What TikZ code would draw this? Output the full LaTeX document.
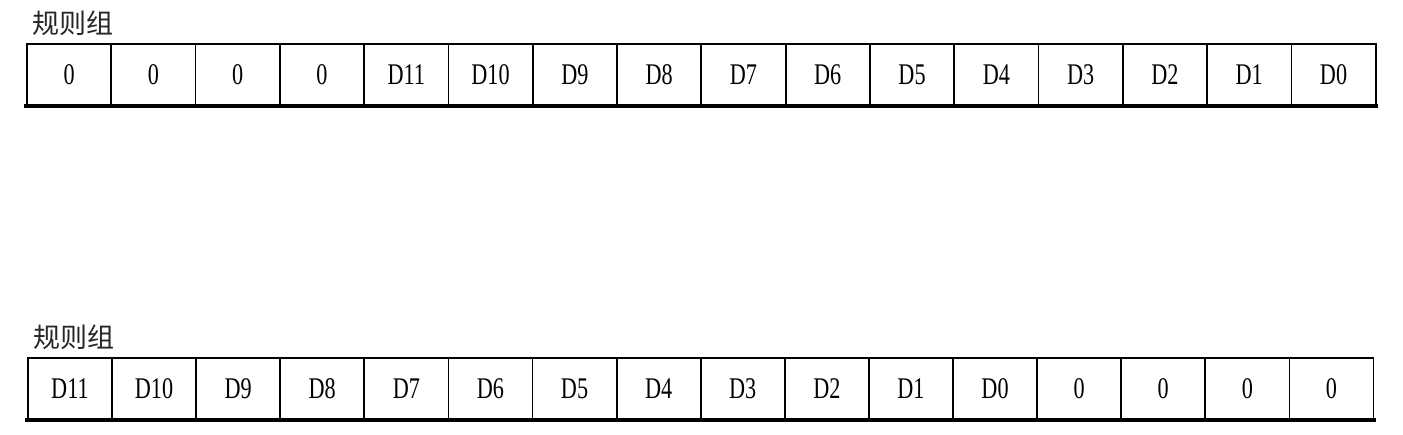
\documentclass[tikz,border=0pt]{standalone}
\usepackage{fontspec}
\setmainfont{Liberation Serif}
\newfontfamily\cellfont[FakeStretch=0.74]{Liberation Serif}
\newfontfamily\cjk{Noto Sans CJK SC}
\tikzset{
  cell/.style={draw=black, line width=1.8pt, minimum width=84.3pt, minimum height=61pt, inner sep=0pt, anchor=west, font=\cellfont\fontsize{30}{30}\selectfont},
  cellb/.style={cell, minimum width=84.1pt},
  grp/.style={anchor=west, inner sep=0pt, font=\cjk\fontsize{27}{27}\selectfont, text=black!85},
  baseline/.style={line width=3.4pt, line cap=rect}
}
\begin{document}
\begin{tikzpicture}[x=1pt,y=-1pt]
\useasboundingbox (0,0) rectangle (1403,435);
\node[grp] (g1) at (32,23) {规则组};
\node[grp] (g2) at (33,337) {规则组};
\foreach \t [count=\i] in {0,0,0,0,D11,D10,D9,D8,D7,D6,D5,D4,D3,D2,D1,D0} {
  \node[cell] (t\i) at ({26+84.3*(\i-1)},74.5) {\t};
}
\foreach \t [count=\i] in {D11,D10,D9,D8,D7,D6,D5,D4,D3,D2,D1,D0,0,0,0,0} {
  \node[cellb] (b\i) at ({27+84.1*(\i-1)},388.5) {\t};
}
\draw[baseline] (t1.south west) -- (t16.south east);
\draw[baseline] (b1.south west) -- (b16.south east);
\end{tikzpicture}
\end{document}
